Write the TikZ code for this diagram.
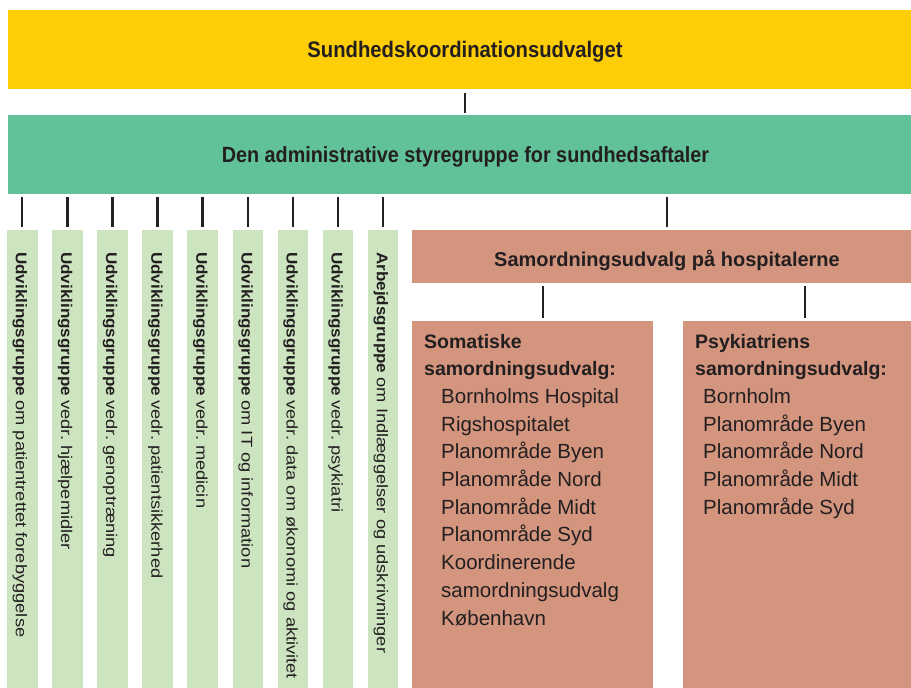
\documentclass[tikz,border=0pt]{standalone}
\usepackage{fontspec}
\setmainfont{Liberation Sans}
\newfontfamily\condfont[FakeStretch=0.9]{Liberation Sans}
\newfontfamily\widebold[FakeStretch=1.1]{Liberation Sans}
\newfontfamily\widereg[FakeStretch=1.18]{Liberation Sans}
\definecolor{yel}{HTML}{FDCD06}
\definecolor{grn}{HTML}{61C29A}
\definecolor{lgrn}{HTML}{CDE4C0}
\definecolor{sal}{HTML}{D4957F}
\definecolor{ink}{HTML}{231F20}
\frenchspacing
\tikzset{
  boxx/.style={rectangle, inner sep=0pt, outer sep=0pt, anchor=north west},
  conn/.style={draw=ink, line width=2.4pt, shorten <=3pt, shorten >=3pt},
  toptitle/.style={inner sep=0pt, anchor=base, text=ink, font=\condfont\bfseries\fontsize{22.5}{26}\selectfont},
  coltext/.style={inner sep=0pt, anchor=base west, rotate=-90, text=ink, font=\frenchspacing\fontsize{15.5}{18}\selectfont},
  hosptitle/.style={inner sep=0pt, anchor=base, text=ink, font=\bfseries\fontsize{20}{24}\selectfont},
  subhead/.style={inner sep=0pt, anchor=base west, text=ink, font=\bfseries\fontsize{19.5}{24}\selectfont},
  subitem/.style={inner sep=0pt, anchor=base west, text=ink, font=\fontsize{20.5}{24}\selectfont}
}
\begin{document}
\begin{tikzpicture}[x=1pt, y=-1pt]
\useasboundingbox (0,0) rectangle (911,688);
\clip (0,0) rectangle (911,688);
\fill[white] (0,0) rectangle (911,688);

% top boxes
\node[boxx, fill=yel, minimum width=914pt, minimum height=79pt] (sk) at (8,10) {};
\node[toptitle] (skt) at (465,57.3) {Sundhedskoordinationsudvalget};
\node[boxx, fill=grn, minimum width=914pt, minimum height=79pt] (gr) at (8,115) {};
\node[toptitle, font=\condfont\bfseries\fontsize{22}{26}\selectfont] (grt) at (465.5,162.5) {Den administrative styregruppe for sundhedsaftaler};
\draw[conn, shorten <=4pt, shorten >=2pt] (sk.south) -- (gr.north);

% columns
\foreach \i in {1,...,9} {
  \node[boxx, fill=lgrn, minimum width=30.5pt, minimum height=470pt] (c\i) at ({7+(\i-1)*45.1},230) {};
  \draw[conn] (c\i.north |- gr.south) -- (c\i.north);
}
\node[coltext] (t1) at ({16+0*45.1},252) {{\widebold\bfseries Udviklingsgruppe} {\widereg om patientrettet forebyggelse}};
\node[coltext] (t2) at ({16+1*45.1},252) {{\widebold\bfseries Udviklingsgruppe} {\widereg vedr. hjælpemidler}};
\node[coltext] (t3) at ({16+2*45.1},252) {{\widebold\bfseries Udviklingsgruppe} {\widereg vedr. genoptræning}};
\node[coltext] (t4) at ({16+3*45.1},252) {{\widebold\bfseries Udviklingsgruppe} {\widereg vedr. patientsikkerhed}};
\node[coltext] (t5) at ({16+4*45.1},252) {{\widebold\bfseries Udviklingsgruppe} {\widereg vedr. medicin}};
\node[coltext] (t6) at ({16+5*45.1},252) {{\widebold\bfseries Udviklingsgruppe} {\widereg om IT og information}};
\node[coltext] (t7) at ({16+6*45.1},252) {{\widebold\bfseries Udviklingsgruppe} {\widereg vedr. data om økonomi og aktivitet}};
\node[coltext] (t8) at ({16+7*45.1},252) {{\widebold\bfseries Udviklingsgruppe} {\widereg vedr. psykiatri}};
\node[coltext] (t9) at ({16+8*45.1},252) {{\widebold\bfseries Arbejdsgruppe} {\widereg om Indlæggelser og udskrivninger}};

% hospital boxes
\node[boxx, fill=sal, minimum width=510pt, minimum height=53pt] (hosp) at (412,230) {};
\node[hosptitle] (hospt) at (667,266) {Samordningsudvalg på hospitalerne};
\draw[conn] (hosp.north |- gr.south) -- (hosp.north);

\node[boxx, fill=sal, minimum width=241pt, minimum height=380pt] (som) at (412,321) {};
\node[boxx, fill=sal, minimum width=240pt, minimum height=380pt] (psy) at (683,321) {};
\draw[conn] ([xshift=10.5pt]som.north |- hosp.south) -- ([xshift=10.5pt]som.north);
\draw[conn] ([xshift=2pt]psy.north |- hosp.south) -- ([xshift=2pt]psy.north);

\node[subhead] (somh1) at (424,348) {Somatiske};
\node[subhead] (somh2) at (424,375.7) {samordningsudvalg:};
\foreach \t [count=\k] in {Bornholms Hospital, Rigshospitalet, Planområde Byen, Planområde Nord, Planområde Midt, Planområde Syd, Koordinerende, samordningsudvalg, København} {
  \node[subitem] (soml\k) at (441,{375.7+27.7*\k}) {\t};
}
\node[subhead] (psyh1) at (695,348) {Psykiatriens};
\node[subhead] (psyh2) at (695,375.7) {samordningsudvalg:};
\foreach \t [count=\k] in {Bornholm, Planområde Byen, Planområde Nord, Planområde Midt, Planområde Syd} {
  \node[subitem] (psyl\k) at (703,{375.7+27.7*\k}) {\t};
}
\end{tikzpicture}
\end{document}
